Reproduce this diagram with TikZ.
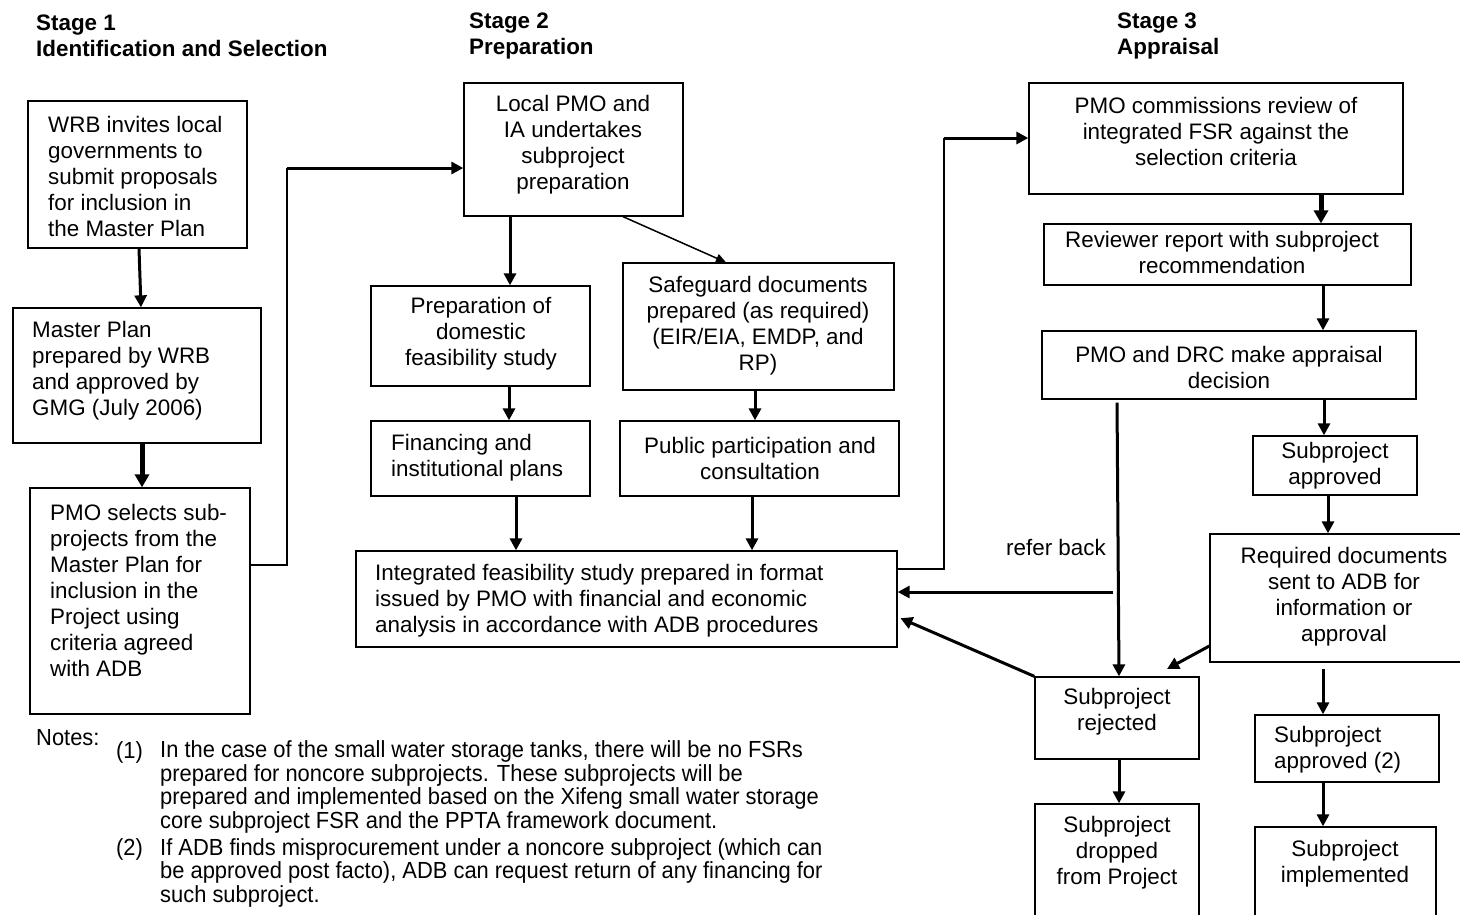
\documentclass[tikz,border=0pt]{standalone}
\usepackage{fontspec}
\setmainfont{Liberation Sans}
\newfontfamily\notefont[FakeStretch=0.94]{Liberation Sans}
\usetikzlibrary{arrows.meta,fit}
\begin{document}
\begin{tikzpicture}[x=1pt,y=-1pt,
  box/.style={draw, line width=1.3pt, inner sep=0pt},
  txt/.style={inner sep=0pt, font=\fontsize{22.4}{26}\selectfont},
  ltxt/.style={txt, align=left, anchor=west},
  ctxt/.style={txt, align=center, anchor=center},
  head/.style={inner sep=0pt, anchor=west, align=left, font=\bfseries\fontsize{22.4}{26}\selectfont},
  note/.style={inner sep=0pt, anchor=west, align=left, font=\notefont\fontsize{23.3}{23.5}\selectfont},
  arr/.style={-{Triangle[length=12pt,width=12pt]}, line width=3pt},
  bigarr/.style={-{Triangle[length=13pt,width=14pt]}, line width=5pt},
  thinarr/.style={-{Triangle[length=10pt,width=9pt]}, line width=1.5pt},
  link/.style={line width=1.8pt}]
\fill[white] (0,0) rectangle (1460,914);
\useasboundingbox (0,0) rectangle (1460,914);

% headers
\node[head] (h1) at (36,36) {Stage 1\\Identification and Selection};
\node[head] (h2) at (469,36) {Stage 2\\Preparation};
\node[head] (h3) at (1117,36) {Stage 3\\Appraisal};

% Stage 1 boxes
\node[box, fit={(28,101)(247,248)}] (A) {};
\node[ltxt] (At) at (48,176) {WRB invites local\\governments to\\submit proposals\\for inclusion in\\the Master Plan};
\node[box, fit={(13,308)(261,443)}] (B) {};
\node[ltxt] (Bt) at (32,370.5) {Master Plan\\prepared by WRB\\and approved by\\GMG (July 2006)};
\node[box, fit={(30,488)(250,714)}] (C) {};
\node[ltxt] (Ct) at (50,590) {PMO selects sub-\\projects from the\\Master Plan for\\inclusion in the\\Project using\\criteria agreed\\with ADB};

% Stage 2 boxes
\node[box, fit={(464,83)(683,216)}] (P) {};
\node[ctxt] (Pt) at (573,145) {Local PMO and\\IA undertakes\\subproject\\preparation};
\node[box, fit={(371,286)(590,386)}] (Q) {};
\node[ctxt] (Qt) at (481,334) {Preparation of\\domestic\\feasibility study};
\node[box, fit={(623,263)(894,390)}] (S) {};
\node[ctxt] (St) at (758,326) {Safeguard documents\\prepared (as required)\\(EIR/EIA, EMDP, and\\RP)};
\node[box, fit={(371,421)(590,496)}] (F) {};
\node[ltxt] (Ft) at (391,458) {Financing and\\institutional plans};
\node[box, fit={(620,421)(899,496)}] (U) {};
\node[ctxt] (Ut) at (760,458) {Public participation and\\consultation};
\node[box, fit={(356,551)(897,647)}] (I) {};
\node[ltxt] (It) at (375,601) {Integrated feasibility study prepared in format\\issued by PMO with financial and economic\\analysis in accordance with ADB procedures};

% Stage 3 boxes
\node[box, fit={(1029,83)(1403,194)}] (R) {};
\node[ctxt] (Rt) at (1216,131.5) {PMO commissions review of\\integrated FSR against the\\selection criteria};
\node[box, fit={(1044,224)(1411,285)}] (V) {};
\node[ctxt] (Vt) at (1222,252) {Reviewer report with subproject\\recommendation};
\node[box, fit={(1042,331)(1416,399)}] (D) {};
\node[ctxt] (Dt) at (1229,367) {PMO and DRC make appraisal\\decision};
\node[box, fit={(1253,436)(1417,495)}] (Ap) {};
\node[ctxt] (Apt) at (1335,465.5) {Subproject\\approved};
\node[box, fit={(1210,534)(1480,662)}] (Rq) {};
\node[ctxt] (Rqt) at (1344,596.5) {Required documents\\sent to ADB for\\information or\\approval};
\node[box, fit={(1255,715)(1439,782)}] (Ap2) {};
\node[ltxt] (Ap2t) at (1274,750) {Subproject\\approved (2)};
\node[box, fit={(1255,827)(1436,940)}] (Im) {};
\node[ctxt] (Imt) at (1345,863.5) {Subproject\\implemented};
\node[box, fit={(1035,677)(1199,759)}] (Rj) {};
\node[ctxt] (Rjt) at (1117,712) {Subproject\\rejected};
\node[box, fit={(1035,804)(1199,940)}] (Dr) {};
\node[ctxt] (Drt) at (1117,853) {Subproject\\dropped\\from Project};
\node[txt, anchor=center] (rb) at (1056,547) {refer back};

% notes
\node[note] (n0) at (36,738) {Notes:};
\node[note] (n1l) at (116,752) {(1)};
\node[note] (n1) at (160,787) {In the case of the small water storage tanks, there will be no FSRs\\prepared for noncore subprojects. These subprojects will be\\prepared and implemented based on the Xifeng small water storage\\core subproject FSR and the PPTA framework document.};
\node[note] (n2l) at (116,849) {(2)};
\node[note] (n2) at (160,872.5) {If ADB finds misprocurement under a noncore subproject (which can\\be approved post facto), ADB can request return of any financing for\\such subproject.};

% helper coordinates
\coordinate (c1) at (287,565);
\coordinate (c2) at (287,168);
\coordinate (d1) at (944,569);
\coordinate (d2) at (944,138);
\coordinate (e1) at (1323,669);
\coordinate (g1) at (1113,592);
\coordinate (g2) at (1167,669);

% Stage 1 connectors
\draw[arr] (139,0 |- A.south) -- (141,0 |- B.north);
\draw[bigarr] (142,0 |- B.south) -- (142,0 |- C.north);
\draw[link] (C.east |- c1) -- (c1) -- (c2);
\draw[arr] (c2) -- (c2 -| P.west);

% Stage 2 connectors
\draw[arr] (510,0 |- P.south) -- (510,0 |- Q.north);
\draw[thinarr] (623,0 |- P.south) -- (726,0 |- S.north);
\draw[arr] (509,0 |- Q.south) -- (509,0 |- F.north);
\draw[arr] (755,0 |- S.south) -- (755,0 |- U.north);
\draw[arr] (516,0 |- F.south) -- (516,0 |- I.north);
\draw[arr] (752,0 |- U.south) -- (752,0 |- I.north);
\draw[link] (I.east |- d1) -- (d1) -- (d2);
\draw[arr] (d2) -- (d2 -| R.west);

% Stage 3 connectors
\draw[bigarr] (1321,0 |- R.south) -- (1321,0 |- V.north);
\draw[arr] (1323,0 |- V.south) -- (1323,0 |- D.north);
\draw[arr] (1324,0 |- D.south) -- (1324,0 |- Ap.north);
\draw[arr] (1328,0 |- Ap.south) -- (1328,0 |- Rq.north);
\draw[arr] (e1) -- (e1 |- Ap2.north);
\draw[arr] (1323,0 |- Ap2.south) -- (1323,0 |- Im.north);
\draw[arr, shorten <=3pt] (1117,0 |- D.south) -- (1119,0 |- Rj.north);
\draw[arr] (g1) -- (g1 -| I.east);
\draw[arr, shorten >=3pt] (Rj.north west) -- (I.east |- 0,617);
\draw[arr] (Rq.west |- 0,646) -- (g2);
\draw[arr] (1119,0 |- Rj.south) -- (1119,0 |- Dr.north);
\end{tikzpicture}
\end{document}
